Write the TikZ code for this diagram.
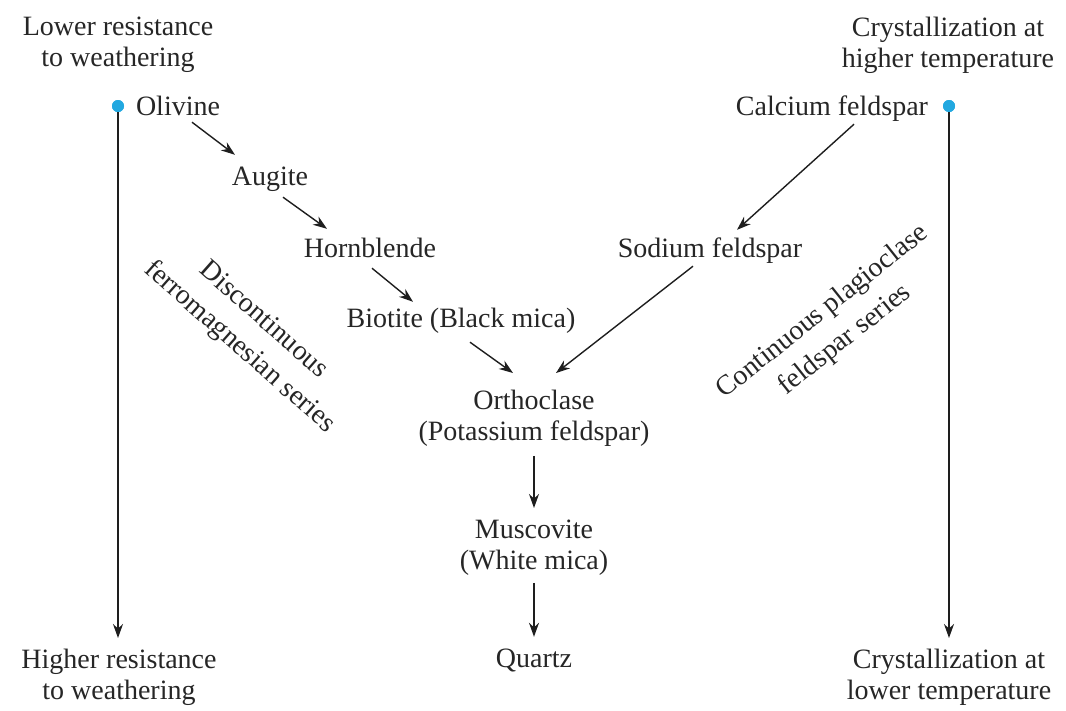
\documentclass[tikz,border=0pt]{standalone}
\usepackage{fontspec}
\setmainfont{Liberation Serif}
\usetikzlibrary{arrows.meta,calc}
\definecolor{txt}{HTML}{262626}
\definecolor{ln}{HTML}{1E1E1E}
\definecolor{dotblue}{HTML}{22A8E0}
\begin{document}
\begin{tikzpicture}[x=1pt,y=-1pt,
  every node/.style={text=txt,font=\fontsize{28}{31}\selectfont,inner sep=0pt},
  lbl/.style={text height=21pt,text depth=7pt},
  mlbl/.style={align=center,anchor=north},
  rot/.style={align=center,font=\fontsize{28}{36}\selectfont},
  bdot/.style={circle,fill=dotblue,minimum size=12pt,inner sep=0pt},
  arr/.style={draw=ln,line width=1.4pt,-{Stealth[length=14pt,width=10pt]}}]
\useasboundingbox (0,0) rectangle (1066,710);
% top labels
\node[mlbl] (lowres) at (118,17) {Lower resistance\\to weathering};
\node[mlbl] (crysH) at (948,17) {Crystallization at\\higher temperature};
% dots
\node[bdot] (dotL) at (118,106) {};
\node[bdot] (dotR) at (949,106) {};
% minerals
\node[lbl] (olivine) at (178,108) {Olivine};
\node[lbl] (calcium) at (832,108) {Calcium feldspar};
\node[lbl] (augite) at (270,178) {Augite};
\node[lbl] (hornblende) at (370,250) {Hornblende};
\node[lbl] (sodium) at (710,250) {Sodium feldspar};
\node[lbl] (biotite) at (461,320) {Biotite (Black mica)};
\node[mlbl] (orthoclase) at (534,390) {Orthoclase\\(Potassium feldspar)};
\node[mlbl] (muscovite) at (534,520) {Muscovite\\(White mica)};
\node[lbl] (quartz) at (534,660) {Quartz};
% bottom labels
\node[mlbl] (highres) at (119,649) {Higher resistance\\to weathering};
\node[mlbl] (crysL) at (949,649) {Crystallization at\\lower temperature};
% series labels
\node[rot,rotate=-41.5] (disc) at (251,334) {Discontinuous\\ferromagnesian series};
\node[rot,rotate=38.5] (cont) at (834,326) {Continuous plagioclase\\feldspar series};
% arrows
\draw[arr] ($(olivine.south)+(14,0)$) -- ($(augite.north)+(-35,-9)$);
\draw[arr] ($(augite.south)+(13,5)$) -- ($(hornblende.north)+(-43,-7)$);
\draw[arr] ($(hornblende.south)+(2,4)$) -- ($(biotite.north)+(-48,-4)$);
\draw[arr] ($(biotite.south)+(9,8)$) -- ($(orthoclase.north)+(-21,-17)$);
\draw[arr] ($(calcium.south)+(22,2)$) -- ($(sodium.north)+(27,-6)$);
\draw[arr] ($(sodium.south)+(-17,2)$) -- ($(orthoclase.north)+(22,-17)$);
\draw[arr] ($(orthoclase.south)+(0,9)$) -- ($(orthoclase.south |- muscovite.north)+(0,-12)$);
\draw[arr] ($(muscovite.south)+(0,7)$) -- ($(muscovite.south |- quartz.north)+(0,-9)$);
\draw[arr] (dotL.center) -- ($(dotL.center |- highres.north)+(0,-11)$);
\draw[arr] (dotR.center) -- ($(dotR.center |- crysL.north)+(0,-11)$);
\node[bdot] at (dotL) {};
\node[bdot] at (dotR) {};
\end{tikzpicture}
\end{document}
